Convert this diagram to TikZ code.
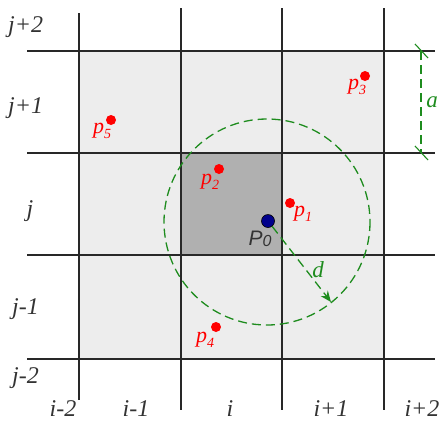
\documentclass[tikz,border=0pt]{standalone}
\usepackage{fontspec}
\setmainfont{Liberation Serif}
\newfontfamily\sansit{Liberation Sans}
\usetikzlibrary{arrows.meta}
\definecolor{gridc}{RGB}{40,40,40}
\definecolor{lightg}{RGB}{237,237,237}
\definecolor{darkg}{RGB}{176,176,176}
\definecolor{ptred}{RGB}{255,0,0}
\definecolor{dgreen}{RGB}{30,140,30}
\definecolor{navy}{RGB}{0,0,140}
\newcommand{\plabel}[1]{p\raisebox{-5pt}{\fontsize{14}{14}\selectfont #1}}
\begin{document}
\begin{tikzpicture}[x=1pt,y=-1pt,
  gline/.style={draw=gridc,line width=1.4pt},
  idx/.style={font=\fontsize{24}{24}\selectfont\itshape,text=black!80,inner sep=0pt},
  pt/.style={circle,fill=ptred,inner sep=0pt,minimum size=10pt},
  plab/.style={font=\fontsize{22}{22}\selectfont\itshape,text=ptred,inner sep=0pt},
  gdash/.style={draw=dgreen,line width=1.3pt,dash pattern=on 9pt off 5pt}]
\useasboundingbox (0,0) rectangle (444,424);
% fills
\fill[lightg] (79,51) rectangle (384,359);
\fill[darkg] (181,153) rectangle (282,255);
% grid
\draw[gline] (79,13) -- (79,400);
\draw[gline] (181,8) -- (181,410);
\draw[gline] (282,8) -- (282,410);
\draw[gline] (384,8) -- (384,410);
\draw[gline] (27,51) -- (435,51);
\draw[gline] (27,153) -- (435,153);
\draw[gline] (27,255) -- (435,255);
\draw[gline] (27,359) -- (435,359);
% row labels
\node[idx,anchor=west] (jp2) at (8,27) {j+2};
\node[idx,anchor=west] (jp1) at (8,108) {j+1};
\node[idx] (j0) at (30,211) {j};
\node[idx,anchor=west] (jm1) at (12,309) {j-1};
\node[idx,anchor=west] (jm2) at (12,378) {j-2};
% column labels
\node[idx] (im2) at (63,409) {i-2};
\node[idx] (im1) at (136,409) {i-1};
\node[idx] (i0) at (230,409) {i};
\node[idx] (ip1) at (331,409) {i+1};
\node[idx] (ip2) at (422,409) {i+2};
% circle
\draw[gdash] (267,222) circle (103);
% points
\node[pt] (p1) at (290,203) {};
\node[pt] (p2) at (219,169) {};
\node[pt] (p3) at (365,76) {};
\node[pt] (p4) at (216,327) {};
\node[pt] (p5) at (111,120) {};
\node[plab] at (303,214) {\plabel{1}};
\node[plab] at (210,182) {\plabel{2}};
\node[plab] at (357,87) {\plabel{3}};
\node[plab] at (205,340) {\plabel{4}};
\node[plab] at (102,131) {\plabel{5}};
% P0
\node[circle,fill=navy,draw=black,line width=0.6pt,inner sep=0pt,minimum size=13pt] (P0) at (268,221) {};
\node[font=\fontsize{21}{21}\selectfont\sansit\itshape,text=black!80,inner sep=0pt] (P0l) at (260,239) {P\raisebox{-1pt}{\fontsize{16}{16}\selectfont 0}};
% d arrow
\coordinate (dend) at (331,302);
\draw[gdash,-{Stealth[length=11pt,width=9pt]}] (P0) -- (dend);
\node[font=\fontsize{23}{23}\selectfont\itshape,text=dgreen,inner sep=0pt] (dl) at (318,270) {d};
% dimension a
\coordinate (at) at (421,51);
\coordinate (ab) at (421,153);
\draw[gdash] (at) -- (ab);
\draw[draw=dgreen,line width=1.1pt] (415,44) -- (428,58);
\draw[draw=dgreen,line width=1.1pt] (415,146) -- (428,160);
\node[font=\fontsize{23}{23}\selectfont\itshape,text=dgreen,inner sep=0pt] (al) at (432,102) {a};
\end{tikzpicture}
\end{document}
